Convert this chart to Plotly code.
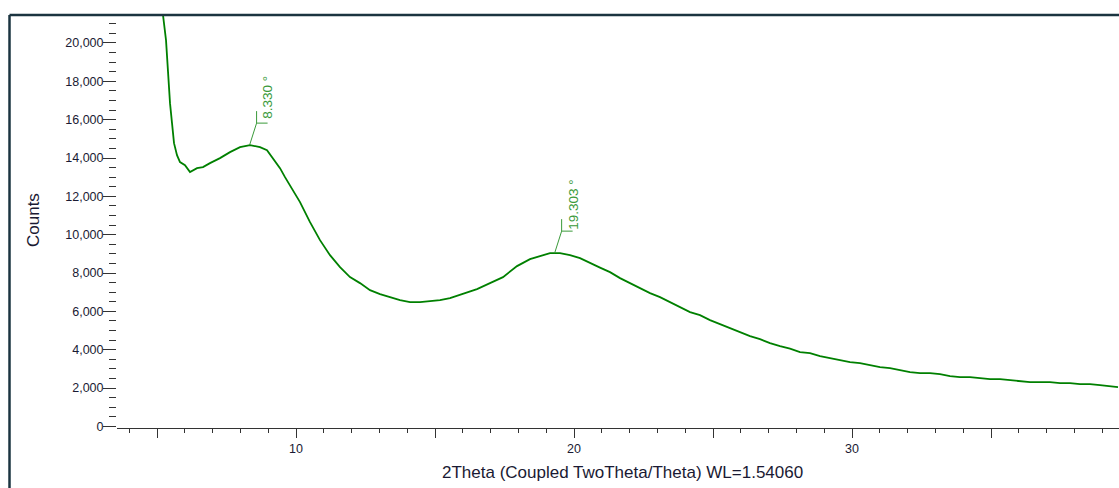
import plotly.graph_objects as go

two_theta = [5.18, 5.216, 5.324, 5.396, 5.468, 5.540, 5.612, 5.719, 5.827, 6.007, 6.187,
             6.439, 6.655, 6.906, 7.266, 7.626, 7.986, 8.345, 8.705, 8.957, 9.173,
             9.424, 9.604, 9.784, 10.144, 10.504, 10.863, 11.223, 11.583, 11.942,
             12.302, 12.662, 13.022, 13.381, 13.741, 14.101, 14.460, 14.820, 15.180,
             15.540, 16.007, 16.511, 16.978, 17.446, 17.950, 18.417, 18.777, 19.137,
             19.496, 19.856, 20.216, 20.576, 20.935, 21.295, 21.655, 22.014, 22.374,
             22.734, 23.094, 23.453, 23.813, 24.173, 24.532, 24.892, 25.252, 25.612,
             25.971, 26.331, 26.691, 27.050, 27.410, 27.770, 28.129, 28.489, 28.849,
             29.209, 29.568, 29.928, 30.288, 30.647, 31.007, 31.367, 31.727, 32.086,
             32.446, 32.806, 33.165, 33.525, 33.885, 34.245, 34.604, 34.964, 35.324,
             35.683, 36.043, 36.403, 36.763, 37.122, 37.482, 37.842, 38.201, 38.561,
             38.921, 39.281, 39.568]
counts = [22500, 21454, 20150, 18220, 16863, 15820, 14777, 14151, 13786, 13630, 13264,
          13473, 13525, 13734, 13995, 14308, 14568, 14673, 14568, 14412, 13995,
          13473, 13003, 12586, 11700, 10656, 9717, 8935, 8309, 7787,
          7475, 7109, 6901, 6744, 6588, 6483, 6483, 6536, 6588,
          6692, 6901, 7162, 7475, 7787, 8361, 8726, 8883, 9039,
          9039, 8935, 8778, 8518, 8283, 8048, 7735, 7475, 7214,
          6953, 6744, 6483, 6223, 5962, 5805, 5545, 5336, 5127,
          4919, 4710, 4554, 4345, 4188, 4058, 3875, 3823, 3667,
          3563, 3458, 3354, 3302, 3197, 3093, 3041, 2937, 2832,
          2780, 2780, 2728, 2624, 2571, 2571, 2519, 2467, 2467,
          2415, 2363, 2311, 2311, 2311, 2259, 2259, 2206, 2206,
          2154, 2102, 2050]

peak_pos = [8.330, 19.303]
peak_counts = [14673, 9039]
peak_labels = ["8.330 °", "19.303 °"]

x_tickvals = [5, 10, 15, 20, 25, 30, 35]
x_ticktext = ["", "10", "", "20", "", "30", ""]

FONT = "Liberation Sans, Arial, sans-serif"
LINE_GREEN = "#008000"
LABEL_GREEN = "#3a9a3a"
TXT = "#1a1a33"

fig = go.Figure()
fig.add_trace(go.Scatter(x=two_theta, y=counts, mode="lines",
                         line=dict(color=LINE_GREEN, width=1.8),
                         hoverinfo="skip", showlegend=False))

xr = [3.561, 39.604]
yr = [-82, 21408]
px_x = (xr[1] - xr[0]) / 1002.0   # deg per pixel
px_y = (yr[1] - yr[0]) / 412.0    # counts per pixel

shapes = []
annotations = []
for pos, cnt, lab in zip(peak_pos, peak_counts, peak_labels):
    x1 = pos + 7 * px_x
    y1 = cnt + 22 * px_y
    shapes.append(dict(type="line", x0=pos, y0=cnt, x1=x1, y1=y1,
                       line=dict(color=LABEL_GREEN, width=1)))
    shapes.append(dict(type="line", x0=x1, y0=y1, x1=x1, y1=y1 + 12 * px_y,
                       line=dict(color=LABEL_GREEN, width=1)))
    shapes.append(dict(type="line", x0=x1, y0=y1, x1=x1 + 11 * px_x, y1=y1,
                       line=dict(color=LABEL_GREEN, width=1)))
    annotations.append(dict(x=x1 + 11 * px_x, y=y1 + 26 * px_y, text=lab, textangle=-90,
                            showarrow=False, xanchor="center", yanchor="middle",
                            font=dict(family=FONT, size=13.5, color=LABEL_GREEN)))

# outer frame (left and top border)
fx = (9.5 - 117) / 1002.0
fy = (428 - 15) / 412.0
shapes.append(dict(type="line", xref="paper", yref="paper", x0=fx, y0=fy, x1=fx, y1=-0.3,
                   line=dict(color="#1b3440", width=2.5)))
shapes.append(dict(type="line", xref="paper", yref="paper", x0=fx, y0=fy, x1=1.05, y1=fy,
                   line=dict(color="#1b3440", width=2.5)))

annotations.append(dict(xref="paper", yref="paper", x=(622 - 117) / 1002.0,
                        y=(428 - 472) / 412.0, text="2Theta (Coupled TwoTheta/Theta) WL=1.54060",
                        showarrow=False, xanchor="center", yanchor="middle",
                        font=dict(family=FONT, size=17, color=TXT)))
annotations.append(dict(xref="paper", yref="paper", x=(33 - 117) / 1002.0,
                        y=(428 - 220) / 412.0, text="Counts", textangle=-90,
                        showarrow=False, xanchor="center", yanchor="middle",
                        font=dict(family=FONT, size=17, color=TXT)))

fig.update_layout(
    width=1119, height=488,
    margin=dict(l=117, r=0, t=16, b=60),
    paper_bgcolor="white", plot_bgcolor="white",
    shapes=shapes, annotations=annotations,
    font=dict(family=FONT, size=12.5, color=TXT),
    xaxis=dict(range=xr, showgrid=False, zeroline=False, showline=True,
               linecolor="#333333", linewidth=1,
               tickmode="array", tickvals=x_tickvals, ticktext=x_ticktext,
               ticks="outside", ticklen=9, tickcolor="#333333",
               minor=dict(dtick=1, tick0=0, ticks="outside", ticklen=4, tickcolor="#333333"),
               tickfont=dict(family=FONT, size=12.5, color=TXT)),
    yaxis=dict(range=yr, showgrid=False, zeroline=False, showline=False,
               tickmode="linear", tick0=0, dtick=2000, tickformat=",d",
               ticks="outside", ticklen=13, tickcolor="#333333",
               ticklabelstandoff=-3,
               minor=dict(dtick=500, tick0=0, ticks="outside", ticklen=7, tickcolor="#333333"),
               tickfont=dict(family=FONT, size=12.5, color=TXT)),
)

fig.write_html("out.html", config={"displayModeBar": False},
               post_script="document.body.style.margin='0';")
